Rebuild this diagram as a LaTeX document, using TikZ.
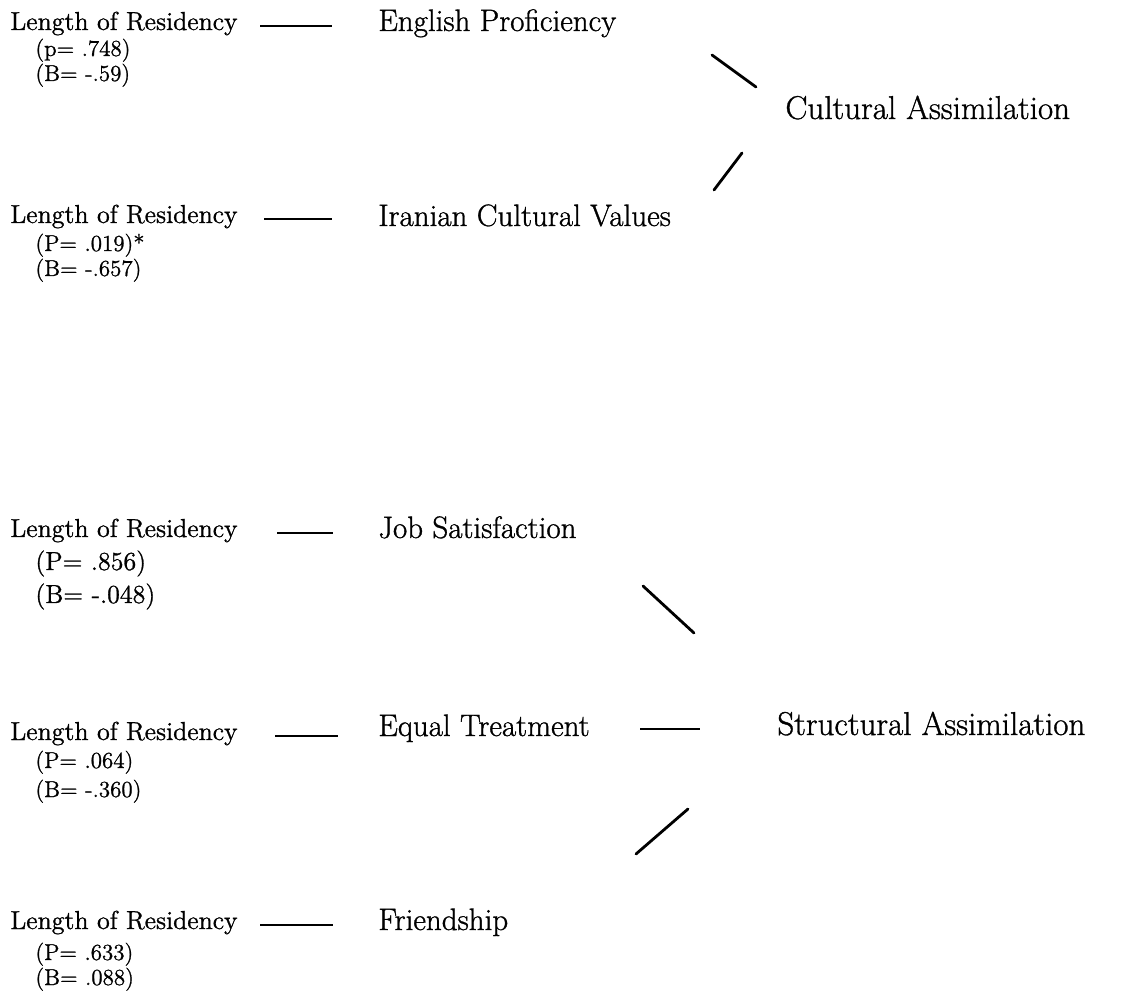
\documentclass[tikz,border=0pt]{standalone}
\usepackage{fontspec}
\setmainfont{Latin Modern Roman}[FakeBold=1.0]
\begin{document}
\begin{tikzpicture}[x=0.5pt,y=-0.5pt,
  lor/.style={anchor=base west,inner sep=0pt,font=\fontsize{13}{15}\selectfont},
  stat/.style={anchor=base west,inner sep=0pt,font=\fontsize{11.5}{13}\selectfont},
  statbig/.style={anchor=base west,inner sep=0pt,font=\fontsize{13}{15}\selectfont},
  lbl/.style={anchor=base west,inner sep=0pt,font=\fontsize{15.5}{18}\selectfont},
  goal/.style={anchor=base west,inner sep=0pt,font=\fontsize{16.5}{19}\selectfont},
  dashline/.style={line width=1pt},
  diag/.style={line width=1.4pt,line cap=round}]
\useasboundingbox[fill=white] (0,0) rectangle (1125,994);

% Row 1
\node[lor] (lor1) at (10,30) {Length of Residency};
\node[stat] (p1) at (35,56) {(p= .748)};
\node[stat] (b1) at (35,81) {(B= -.59)};
\node[lbl] (ep) at (378,31) {English Proficiency};
\coordinate (d1a) at (260,26); \coordinate (d1b) at (332,26);
\draw[dashline] (d1a) -- (d1b);

% Cultural assimilation
\node[goal] (ca) at (785,119) {Cultural Assimilation};
\coordinate (c1a) at (712,55); \coordinate (c1b) at (756,87);
\draw[diag] (c1a) -- (c1b);
\coordinate (c2a) at (742,153); \coordinate (c2b) at (714,190);
\draw[diag] (c2a) -- (c2b);

% Row 2
\node[lor] (lor2) at (10,223) {Length of Residency};
\node[stat] (p2) at (35,251) {(P= .019)*};
\node[stat] (b2) at (35,276) {(B= -.657)};
\node[lbl] (icv) at (378,226) {Iranian Cultural Values};
\coordinate (d2a) at (264,219); \coordinate (d2b) at (332,219);
\draw[dashline] (d2a) -- (d2b);

% Row 3
\node[lor] (lor3) at (10,537) {Length of Residency};
\node[statbig] (p3) at (35,570) {(P= .856)};
\node[statbig] (b3) at (35,603) {(B= -.048)};
\node[lbl] (js) at (378,538) {Job Satisfaction};
\coordinate (d3a) at (277,533); \coordinate (d3b) at (333,533);
\draw[dashline] (d3a) -- (d3b);

% Row 4
\node[lor] (lor4) at (10,740) {Length of Residency};
\node[stat] (p4) at (35,768) {(P= .064)};
\node[stat] (b4) at (35,797) {(B= -.360)};
\node[lbl] (et) at (378,736) {Equal Treatment};
\coordinate (d4a) at (275,736); \coordinate (d4b) at (338,736);
\draw[dashline] (d4a) -- (d4b);
\coordinate (e1a) at (640,729); \coordinate (e1b) at (700,729);
\draw[dashline] (e1a) -- (e1b);

% Structural assimilation
\node[goal] (sa) at (777,735) {Structural Assimilation};
\coordinate (s1a) at (643,586); \coordinate (s1b) at (694,633);
\draw[diag] (s1a) -- (s1b);
\coordinate (s2a) at (688,809); \coordinate (s2b) at (636,854);
\draw[diag] (s2a) -- (s2b);

% Row 5
\node[lor] (lor5) at (10,929) {Length of Residency};
\node[stat] (p5) at (35,960) {(P= .633)};
\node[stat] (b5) at (35,985) {(B= .088)};
\node[lbl] (fr) at (378,930) {Friendship};
\coordinate (d5a) at (260,925); \coordinate (d5b) at (333,925);
\draw[dashline] (d5a) -- (d5b);
\end{tikzpicture}
\end{document}
